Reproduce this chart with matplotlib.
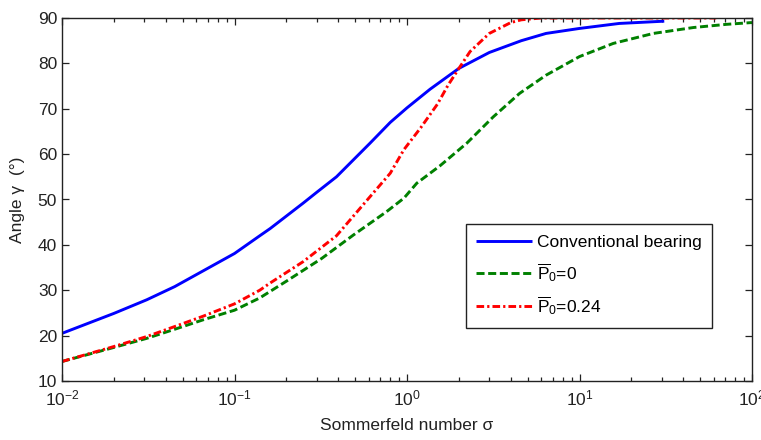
import matplotlib
matplotlib.use("Agg")
import matplotlib.pyplot as plt
from matplotlib.ticker import FixedLocator, LogLocator, NullFormatter, FixedFormatter

plt.rcParams['font.family'] = ['Liberation Sans', 'DejaVu Sans']
plt.rcParams['mathtext.fontset'] = 'custom'
plt.rcParams['mathtext.rm'] = 'Liberation Sans'
plt.rcParams['mathtext.it'] = 'Liberation Sans:italic'
plt.rcParams['lines.scale_dashes'] = False

# Conventional bearing
sigma_conv = [0.01, 0.02, 0.031, 0.045, 0.066, 0.1, 0.14, 0.161, 0.25, 0.30,
              0.39, 0.61, 0.80, 1.0, 1.36, 2.0, 3.0, 4.6, 6.4, 10, 17, 31]
angle_conv = [20.5, 24.9, 27.9, 30.8, 34.3, 38.1, 42.0, 43.6, 49.2, 51.6,
              55.0, 62.4, 67.0, 70.2, 74.3, 78.9, 82.4, 85.0, 86.6, 87.7, 88.8, 89.3]

# P0 = 0
sigma_p0 = [0.01, 0.02, 0.031, 0.045, 0.066, 0.1, 0.14, 0.2, 0.32, 0.49, 0.76,
            0.96, 1.14, 1.55, 2.22, 3.16, 4.5, 6.4, 10, 15.7, 26.8, 45.7, 71, 100]
angle_p0 = [14.3, 17.4, 19.4, 21.4, 23.5, 25.6, 28.3, 32.0, 37.0, 42.2, 47.3,
            50.3, 53.6, 57.4, 62.4, 68.2, 73.4, 77.4, 81.5, 84.4, 86.6, 87.9, 88.6, 89.0]

# P0 = 0.24
sigma_p24 = [0.01, 0.02, 0.031, 0.045, 0.066, 0.1, 0.14, 0.161, 0.25, 0.39, 0.61,
             0.80, 0.96, 1.2, 1.5, 1.73, 2.0, 2.32, 3.0, 4.0, 4.6, 6.0, 20, 62]
angle_p24 = [14.3, 17.6, 19.8, 22.0, 24.3, 27.0, 30.0, 31.6, 36.3, 42.0, 50.6,
             55.8, 61.0, 65.8, 71.0, 75.2, 78.9, 82.6, 86.6, 89.0, 89.6, 90.0, 90.0, 90.0]

x_ticks = [1e-2, 1e-1, 1e0, 1e1, 1e2]
x_tick_labels = [r'$\mathregular{10^{-2}}$', r'$\mathregular{10^{-1}}$',
                 r'$\mathregular{10^{0}}$', r'$\mathregular{10^{1}}$',
                 r'$\mathregular{10^{2}}$']
y_ticks = [10, 20, 30, 40, 50, 60, 70, 80, 90]

fig = plt.figure(figsize=(7.61, 4.40), dpi=100)
ax = fig.add_axes([62 / 761, 1 - 381 / 440, 690 / 761, 363 / 440])

ax.plot(sigma_conv, angle_conv, color='#0000ff', lw=2.1, solid_capstyle='butt',
        label='Conventional bearing')
ax.plot(sigma_p0, angle_p0, color='#008000', lw=2.1, dashes=(5.8, 2.6),
        label=r'$\mathregular{\overline{P}_0}$=0')
ax.plot(sigma_p24, angle_p24, color='#ff0000', lw=2.1, dashes=(5.5, 2.2, 1.6, 2.2),
        label=r'$\mathregular{\overline{P}_0}$=0.24')

ax.set_xscale('log')
ax.set_xlim(1e-2, 1e2)
ax.set_ylim(10, 90)

ax.xaxis.set_major_locator(FixedLocator(x_ticks))
ax.xaxis.set_major_formatter(FixedFormatter(x_tick_labels))
ax.xaxis.set_minor_locator(LogLocator(base=10, subs=range(2, 10), numticks=20))
ax.xaxis.set_minor_formatter(NullFormatter())
ax.yaxis.set_major_locator(FixedLocator(y_ticks))

ax.tick_params(which='both', direction='in', top=True, right=True,
               labelsize=12.5, colors='#222222', width=0.9)
ax.tick_params(which='major', length=5)
ax.tick_params(which='minor', length=3)
ax.tick_params(axis='x', which='major', pad=5.5)
ax.tick_params(axis='y', which='major', pad=3.5)
for s in ax.spines.values():
    s.set_linewidth(1.0)
    s.set_color('#222222')

ax.set_xlabel('Sommerfeld number σ', fontsize=12.5, color='#222222', labelpad=7)
ax.set_ylabel('Angle γ  (°)', fontsize=12.5, color='#222222', labelpad=9)

leg = ax.legend(loc='upper left', bbox_to_anchor=(0.585, 0.432), fontsize=12.5,
                frameon=True, fancybox=False, edgecolor='#222222', framealpha=1,
                handlelength=3.2, handletextpad=0.3, labelspacing=0.62,
                borderpad=0.6, borderaxespad=0)
leg.get_frame().set_linewidth(1.0)

fig.savefig('out.png', dpi=100)
